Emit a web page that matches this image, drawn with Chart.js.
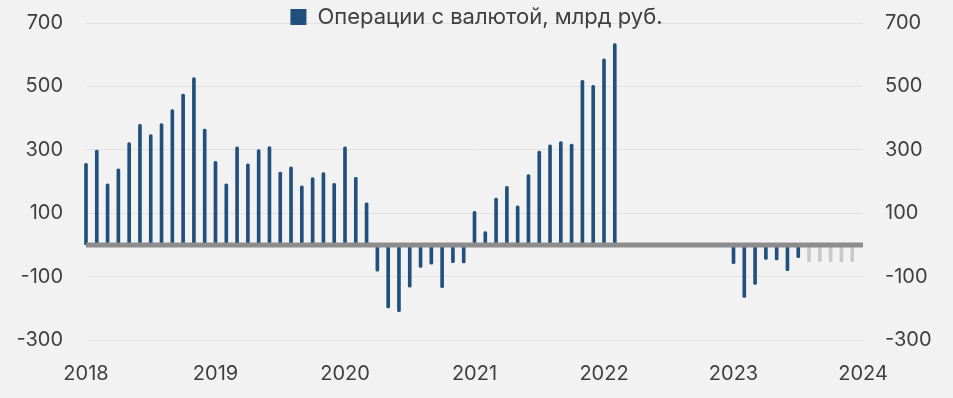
<!DOCTYPE html>
<html>
<head>
<meta charset="utf-8">
<script src="https://cdn.jsdelivr.net/npm/chart.js@4"></script>
<style>
  html, body { margin: 0; padding: 0; background: #f2f2f2; }
  #wrap { width: 953px; height: 398px; }
</style>
</head>
<body>
<div id="wrap"><canvas id="grafico"></canvas></div>
<script>
// Годы на оси X (месячные данные, янв 2018 – дек 2023)
const years = ["2018", "2019", "2020", "2021", "2022", "2023", "2024"];

// Операции с валютой, млрд руб. (факт)
const fact2018 = [257, 299, 193, 240, 323, 380, 348, 383, 427, 476, 528, 365];
const fact2019 = [264, 193, 309, 256, 301, 310, 230, 246, 186, 212, 228, 194];
const fact2020 = [309, 213, 133, -83, -199, -211, -133, -71, -61, -135, -56, -57];
const fact2021 = [106, 42, 148, 185, 123, 222, 296, 316, 326, 318, 519, 503];
const fact2022 = [587, 635, null, null, null, null, null, null, null, null, null, null];
const fact2023 = [-59, -166, -125, -46, -47, -81, -40, null, null, null, null, null];

// Оставшиеся месяцы 2023 (светло-серые столбики)
const plan2023 = [null, null, null, null, null, null, null, -53, -53, -53, -53, -53];

const yTicks = [-300, -100, 100, 300, 500, 700];

const textColor = "#3f3f3f";
const fontFamily = "Inter";

// метки: 12 месяцев на год + последняя отметка 2024
const labels = [];
years.forEach((y, i) => {
  if (i < years.length - 1) {
    for (let m = 0; m < 12; m++) labels.push(m === 0 ? y : "");
  } else {
    labels.push(y);
  }
});

const fact = [].concat(fact2018, fact2019, fact2020, fact2021, fact2022, fact2023, [null]);
const plan = new Array(60).fill(null).concat(plan2023, [null]);

// линия нуля поверх столбиков
const zeroLine = {
  id: "zeroLine",
  afterDatasetsDraw(chart) {
    const { ctx, chartArea, scales } = chart;
    const y = scales.y.getPixelForValue(0);
    ctx.save();
    ctx.strokeStyle = "#8c8c8c";
    ctx.lineWidth = 5;
    ctx.beginPath();
    ctx.moveTo(chartArea.left, y);
    ctx.lineTo(chartArea.right, y);
    ctx.stroke();
    ctx.restore();
  }
};

// легенда накладывается на верх области графика
const tightLegend = {
  id: "tightLegend",
  beforeInit(chart) {
    const fit = chart.legend.fit;
    chart.legend.fit = function () {
      fit.call(this);
      this.height = 23;
    };
  },
  afterLayout(chart) {
    // вернуть высоту, чтобы легенда не обрезалась
    chart.legend.height = 40;
    chart.legend.bottom = chart.legend.top + 40;
  }
};

function fixY(width) {
  return function (scale) {
    scale.width = width;
    scale.paddingTop = 0;
    scale.paddingBottom = 0;
  };
}

const ctx = document.getElementById("grafico").getContext("2d");
new Chart(ctx, {
  type: "bar",
  data: {
    labels: labels,
    datasets: [
      {
        label: "Операции с валютой, млрд руб.",
        data: fact,
        backgroundColor: "#22507c",
        barThickness: 3,
        borderRadius: 2,
        borderSkipped: false,
        grouped: false,
        clip: false
      },
      {
        label: "прогноз",
        data: plan,
        backgroundColor: "#c9c9c9",
        barThickness: 3,
        borderRadius: 2,
        borderSkipped: false,
        grouped: false,
        clip: false
      }
    ]
  },
  options: {
    responsive: true,
    maintainAspectRatio: false,
    animation: false,
    layout: { padding: 0 },
    plugins: {
      legend: {
        position: "top",
        labels: {
          color: textColor,
          font: { family: fontFamily, size: 22 },
          boxWidth: 16,
          boxHeight: 16,
          padding: 6,
          filter: (item) => item.datasetIndex === 0
        }
      },
      tooltip: { enabled: false }
    },
    scales: {
      x: {
        type: "category",
        offset: false,
        grid: { display: false, drawTicks: false },
        border: { display: false },
        ticks: {
          autoSkip: false,
          maxRotation: 0,
          color: textColor,
          font: { family: fontFamily, size: 20 },
          padding: 22
        },
        afterFit(scale) { scale.height = 58; }
      },
      y: {
        position: "left",
        min: -300,
        max: 700,
        afterBuildTicks(scale) { scale.ticks = yTicks.map(v => ({ value: v })); },
        afterFit: fixY(86),
        grid: { color: "#e2e2e2", lineWidth: 1, drawTicks: false },
        border: { display: false },
        ticks: {
          color: textColor,
          font: { family: fontFamily, size: 20 },
          padding: 23
        }
      },
      y2: {
        position: "right",
        min: -300,
        max: 700,
        afterBuildTicks(scale) { scale.ticks = yTicks.map(v => ({ value: v })); },
        afterFit: fixY(90),
        grid: { display: false, drawTicks: false },
        border: { display: false },
        ticks: {
          color: textColor,
          font: { family: fontFamily, size: 20 },
          padding: 22
        }
      }
    }
  },
  plugins: [tightLegend, zeroLine]
});
</script>
</body>
</html>
